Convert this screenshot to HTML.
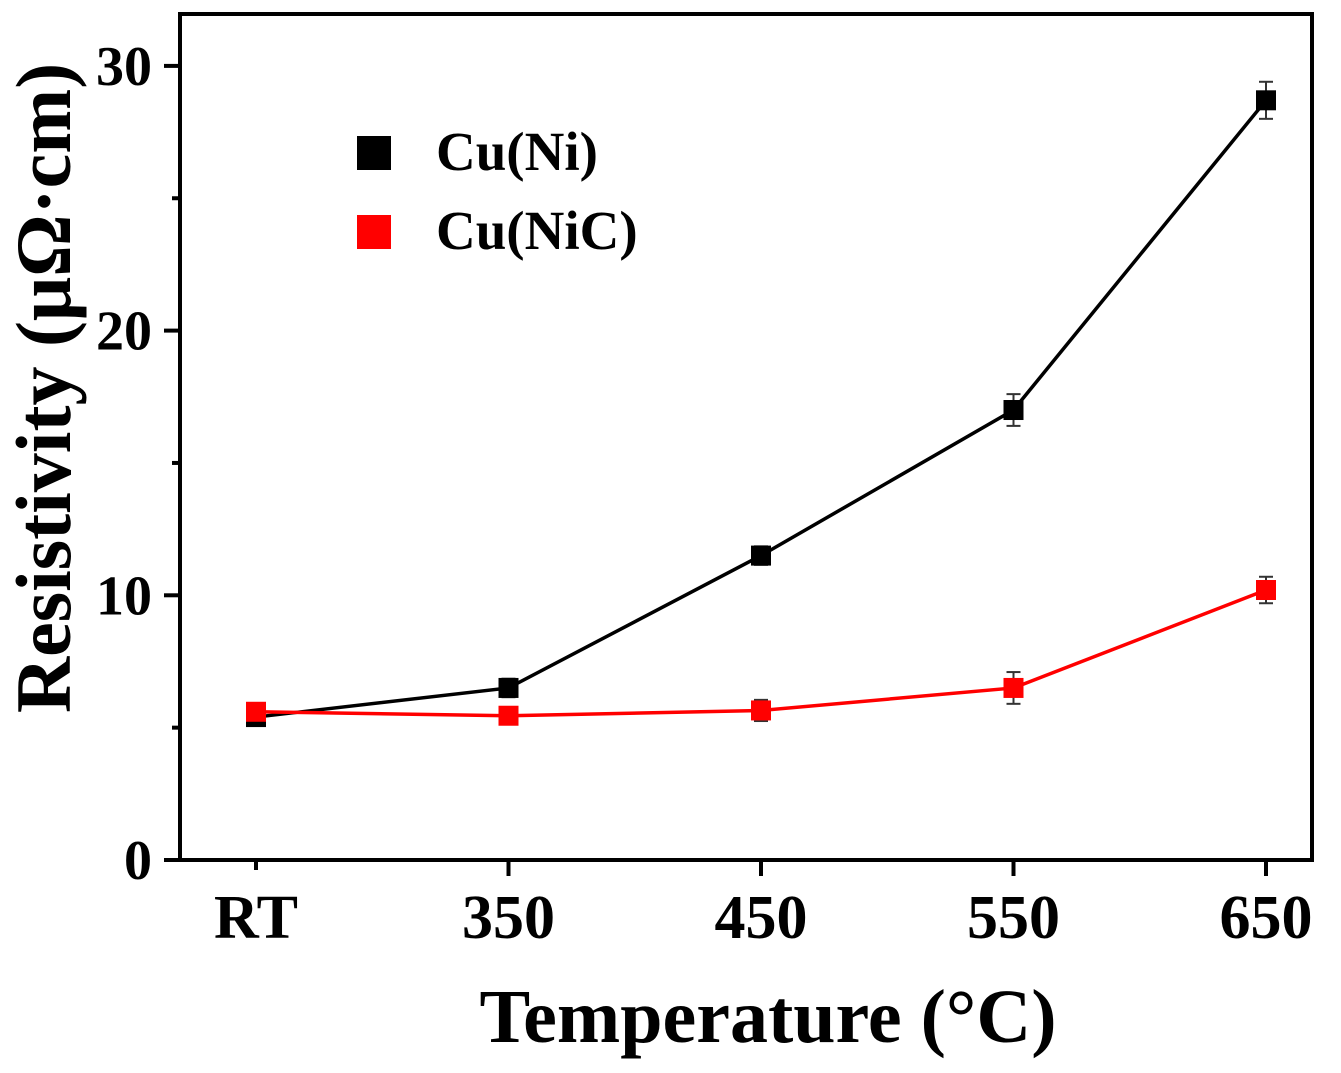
<!DOCTYPE html>
<html><head><meta charset="utf-8"><style>
html,body{margin:0;padding:0;background:#fff;}
svg{display:block;font-family:"Liberation Serif",serif;font-weight:bold;}
</style></head><body>
<svg id="c" width="1341" height="1073" viewBox="0 0 1341 1073">
<rect x="180" y="14" width="1132" height="846" fill="none" stroke="#000" stroke-width="4"/>
<g id="ax"></g><g id="series"></g>
<text x="768" y="1042" font-size="76" text-anchor="middle">Temperature (°C)</text>
<text transform="translate(70,388) rotate(-90)" font-size="78" text-anchor="middle">Resistivity (μΩ·cm)</text>
<rect x="357" y="136" width="34" height="34" fill="#000"/>
<text x="436" y="170" font-size="55">Cu(Ni)</text>
<rect x="357" y="215" width="34" height="34" fill="#f00"/>
<text x="436" y="249" font-size="55">Cu(NiC)</text>
</svg>
<script>
const categories=["RT","350","450","550","650"];
const cuNi=[5.4,6.5,11.5,17.0,28.7];
const cuNiErr=[0.3,0.35,0.35,0.6,0.7];
const cuNiC=[5.6,5.45,5.65,6.5,10.2];
const cuNiCErr=[0.3,0.3,0.4,0.6,0.5];
const yTicks=[0,10,20,30];
const NS="http://www.w3.org/2000/svg";
const xs=i=>256+i*252.5;
const ys=v=>860-v*26.47;
function mk(t,a,p){const e=document.createElementNS(NS,t);for(const k in a)e.setAttribute(k,a[k]);p.appendChild(e);return e;}
const ax=document.getElementById('ax');
yTicks.forEach(v=>{
 const l=mk('line',{x1:164,x2:180,y1:ys(v),y2:ys(v),stroke:'#000','stroke-width':4},ax);
 
 
 const t=mk('text',{x:152,y:ys(v)+19,'font-size':56,'text-anchor':'end'},ax);t.textContent=v;
 
 
});
[5,15,25].forEach(v=>{
 const l=mk('line',{x1:172,x2:180,y1:ys(v),y2:ys(v),stroke:'#000','stroke-width':4},ax);
 
 
});
categories.forEach((c,i)=>{
 const l=mk('line',{x1:xs(i),x2:xs(i),y1:860,y2:i==0?870:876,stroke:'#000','stroke-width':4},ax);
 
 
 const t=mk('text',{x:xs(i),y:938,'font-size':62,'text-anchor':'middle'},ax);t.textContent=c;
 
 
});
const sg=document.getElementById('series');
function series(vals,errs,col,name){
 const pl=mk('polyline',{points:vals.map((v,i)=>xs(i)+','+ys(v)).join(' '),fill:'none',stroke:col,'stroke-width':3.5},sg);
 
 
 vals.forEach((v,i)=>{
  const x=xs(i),y1=ys(v+errs[i]),y2=ys(v-errs[i]);
  const g=mk('g',{stroke:'#333','stroke-width':2},sg);
  mk('line',{x1:x,x2:x,y1:y1,y2:y2},g);
  mk('line',{x1:x-7,x2:x+7,y1:y1,y2:y1},g);
  mk('line',{x1:x-7,x2:x+7,y1:y2,y2:y2},g);
  
  
  const r=mk('rect',{x:x-10,y:ys(v)-10,width:20,height:20,fill:col},sg);
  
  
 });
}
series(cuNi,cuNiErr,'#000','cuni');
series(cuNiC,cuNiCErr,'#f00','cunic');
</script>
</body></html>
